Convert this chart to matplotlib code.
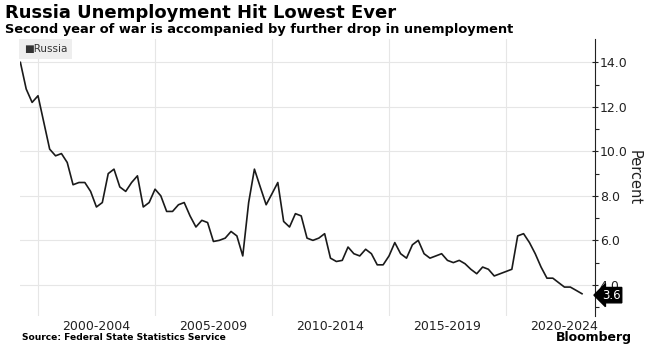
import matplotlib
matplotlib.use("Agg", force=True)

import matplotlib.pyplot as plt
import pandas as pd

# quarterly unemployment rate, %, from Q1 1999
first_quarter = "1999-03-31"
unemployment = [
    14.0, 12.8, 12.2, 12.5, 11.3, 10.1, 9.8, 9.9, 9.5, 8.5,
    8.6, 8.6, 8.2, 7.5, 7.7, 9.0, 9.2, 8.4, 8.2, 8.6,
    8.9, 7.5, 7.7, 8.3, 8.0, 7.3, 7.3, 7.6, 7.7, 7.1,
    6.6, 6.9, 6.8, 5.95, 6.0, 6.1, 6.4, 6.2, 5.3, 7.7,
    9.2, 8.4, 7.6, 8.1, 8.6, 6.85, 6.6, 7.2, 7.1, 6.1,
    6.0, 6.1, 6.3, 5.2, 5.05, 5.1, 5.7, 5.4, 5.3, 5.6,
    5.4, 4.9, 4.9, 5.3, 5.9, 5.4, 5.2, 5.8, 6.0, 5.4,
    5.2, 5.3, 5.4, 5.1, 5.0, 5.1, 4.95, 4.7, 4.5, 4.8,
    4.7, 4.4, 4.5, 4.6, 4.7, 6.2, 6.3, 5.9, 5.4, 4.8,
    4.3, 4.3, 4.1, 3.9, 3.9, 3.75, 3.6,
]
period_labels = ["2000-2004", "2005-2009", "2010-2014", "2015-2019", "2020-2024"]
period_starts = [2000, 2005, 2010, 2015, 2020]

dates = pd.date_range(first_quarter, periods=len(unemployment), freq="QE")

fig = plt.figure(figsize=(6.49, 3.60), dpi=100)
ax = fig.add_axes([20 / 649, 1 - 316 / 360, 575 / 649, 277 / 360])

ax.plot(dates, unemployment, color="#1a1a1a", lw=1.2, zorder=3)

ax.set_xlim(pd.Timestamp("1999-03-25"), pd.Timestamp("2023-10-20"))
ax.set_ylim(2.6, 15.05)

# right-hand y axis
ax.yaxis.tick_right()
ax.yaxis.set_label_position("right")
ax.set_yticks([4, 6, 8, 10, 12, 14])
ax.set_yticks([3, 5, 7, 9, 11, 13], minor=True)
ax.set_yticklabels([f"{v:.1f}" for v in [4, 6, 8, 10, 12, 14]])
ax.tick_params(axis="y", which="major", direction="inout", length=5, width=0.8,
               labelsize=9, colors="#222222", pad=1)
ax.tick_params(axis="y", which="minor", direction="out", length=3, width=0.8,
               colors="#222222")
ax.set_ylabel("Percent", rotation=-90, labelpad=10, fontsize=10.5, color="#222222")

# x axis: gridlines at period boundaries, labels centred between them
ax.set_xticks([pd.Timestamp(f"{y}-01-01") for y in period_starts], minor=True)
ax.set_xticks([pd.Timestamp(f"{y + 2}-07-01") for y in period_starts])
ax.set_xticklabels(period_labels)
ax.tick_params(axis="x", which="both", length=0, labelsize=9, colors="#222222", pad=3)

ax.grid(axis="y", which="major", color="#e6e6e6", lw=0.8)
ax.grid(axis="x", which="minor", color="#e6e6e6", lw=0.8)
ax.grid(axis="x", which="major", visible=False)

for side in ["top", "left", "bottom"]:
    ax.spines[side].set_visible(False)
ax.spines["right"].set_color("#222222")
ax.spines["right"].set_linewidth(0.8)

# legend chip
ax.text(0.007, 0.982, "\u25a0Russia", transform=ax.transAxes, ha="left", va="top",
        fontsize=7.5, color="#333333",
        bbox=dict(boxstyle="square,pad=0.45", fc="#eeeeee", ec="none"))

# last value tag
last = unemployment[-1]
ax.annotate(f"{last:.1f}", xy=(1.0, last), xycoords=("axes fraction", "data"),
            xytext=(5, -1), textcoords="offset points", ha="left", va="center",
            fontsize=8.5, color="white", zorder=5, annotation_clip=False,
            bbox=dict(boxstyle="larrow,pad=0.1", fc="black", ec="black"))

fig.text(5 / 649, 1 - 13 / 360, "Russia Unemployment Hit Lowest Ever",
         fontsize=13, fontweight="bold", color="black", va="center", ha="left")
fig.text(5 / 649, 1 - 29 / 360,
         "Second year of war is accompanied by further drop in unemployment",
         fontsize=9.4, fontweight="bold", color="black", va="center", ha="left")
fig.text(22 / 649, 1 - 338 / 360, "Source: Federal State Statistics Service",
         fontsize=6.6, fontweight="bold", color="black", va="center", ha="left")
fig.text(632 / 649, 1 - 338 / 360, "Bloomberg", fontsize=9, fontweight="bold",
         color="black", va="center", ha="right")

fig.savefig("out.png", dpi=100)
